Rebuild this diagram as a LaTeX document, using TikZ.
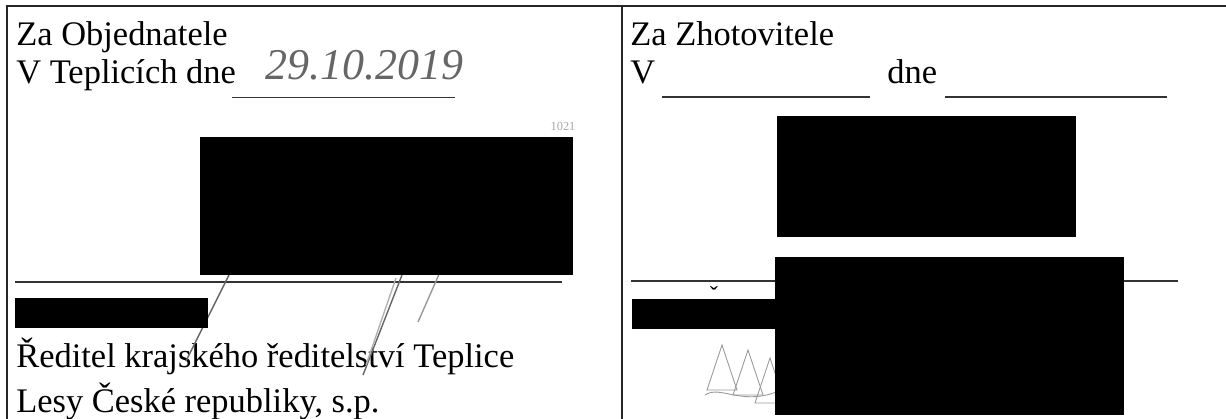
\documentclass[tikz,border=0pt]{standalone}
\usepackage{fontspec}
\setmainfont{Liberation Serif}
\begin{document}
\begin{tikzpicture}[
    txt/.style={anchor=base west,inner sep=0pt,font=\fontsize{19.6}{23}\selectfont},
    frame/.style={line width=0.9pt,black!85},
    uline/.style={line width=0.7pt,black!80},
    redact/.style={fill=black,draw=none},
    pen/.style={line width=0.8pt,black!60},
    stamp/.style={line width=0.5pt,black!40}
  ]
    \useasboundingbox (0,0) rectangle (24.52,-8.38);
    % table frame
    \draw [frame] (0.14,-8.38) -- (0.14,-0.12) -- (24.52,-0.12);
    \draw [frame] (12.44,-0.12) -- (12.44,-8.38);
    % left column
    \node [txt] (objl) at (0.32,-0.92) {Za Objednatele};
    \node [txt] (mistol) at (0.32,-1.68) {V Teplicích dne};
    \draw [uline] (4.64,-1.95) -- (9.1,-1.95);
    \node [anchor=base west,inner sep=0pt,text=black!60,font=\fontsize{25}{25}\selectfont\itshape] (datum) at (5.3,-1.6) {29.10.2019};
    \node [inner sep=0pt,text=black!35,font=\fontsize{7}{7}\selectfont] (cislo) at (11.26,-2.52) {1021};
    \draw [uline] (0.3,-5.64) -- (11.24,-5.64);
    \node [txt] (funkce) at (0.32,-7.34) {Ředitel krajského ředitelství Teplice};
    \node [txt] (firma) at (0.32,-8.24) {Lesy České republiky, s.p.};
    % pen strokes of the signature
    \draw [pen] (4.58,-5.5) -- (3.72,-7.22);
    \draw [pen] (8.04,-5.5) -- (7.26,-7.5);
    \draw [pen,black!30] (7.92,-5.56) -- (7.32,-7.3);
    \draw [pen,black!40] (8.8,-5.44) -- (8.36,-6.44);
    % right column
    \node [txt] (objp) at (12.6,-0.92) {Za Zhotovitele};
    \node [txt] (mistop) at (12.6,-1.68) {V};
    \draw [uline] (13.24,-1.94) -- (17.4,-1.94);
    \node [txt] (dne) at (17.74,-1.68) {dne};
    \draw [uline] (18.9,-1.94) -- (23.34,-1.94);
    \draw [uline] (12.62,-5.62) -- (23.56,-5.62);
    \node [inner sep=0pt,font=\fontsize{14}{14}\selectfont] (hacek) at (14.28,-5.9) {ˇ};
    % stamp trees
    \foreach \x/\y in {14.44/-6.9, 14.96/-7.0, 15.4/-7.16}
      \draw [stamp] (\x,\y) -- (\x-0.3,\y-0.9) -- (\x+0.3,\y-0.9) -- cycle;
    \draw [stamp] (14.1,-7.9) .. controls (14.4,-7.7) and (14.8,-8.1) .. (15.5,-7.85);
    % blacked out parts
    \fill [redact] (4.0,-2.74) rectangle (11.46,-5.5);
    \fill [redact] (0.3,-5.96) rectangle (4.16,-6.56);
    \fill [redact] (15.54,-2.32) rectangle (21.52,-4.74);
    \fill [redact] (12.64,-5.98) rectangle (15.5,-6.58);
    \fill [redact] (15.5,-5.14) rectangle (22.48,-8.3);
\end{tikzpicture}
\end{document}
